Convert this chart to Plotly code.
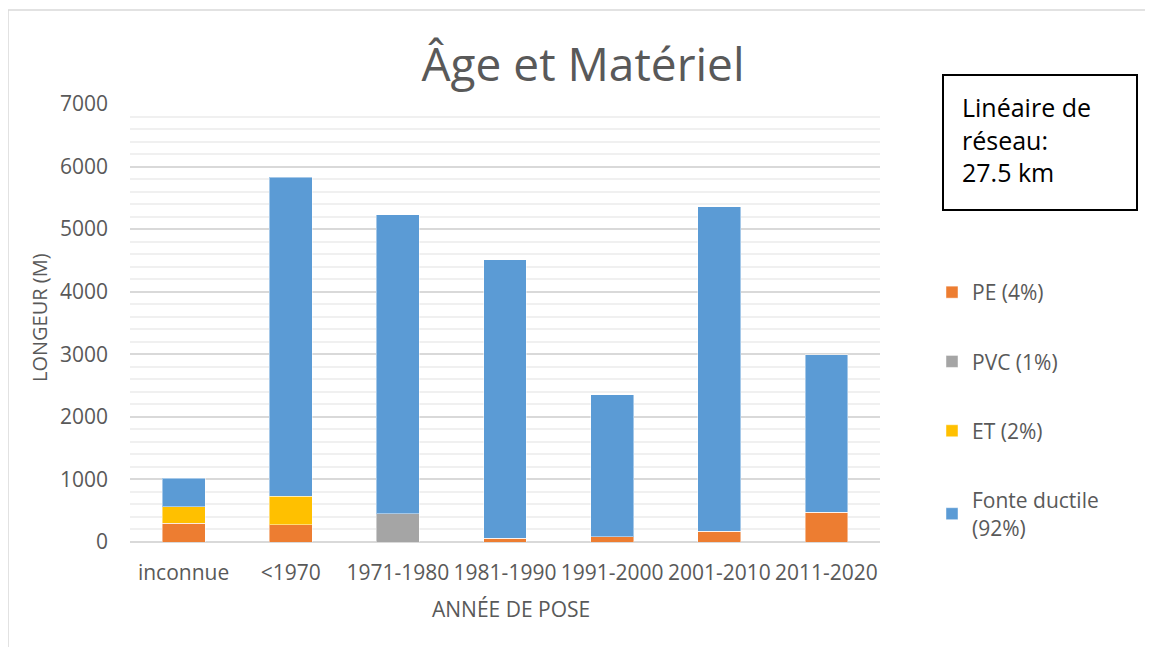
import plotly.graph_objects as go

categories = ["inconnue", "<1970", "1971-1980", "1981-1990", "1991-2000", "2001-2010", "2011-2020"]
pe = [300, 275, 0, 60, 80, 175, 475]
pvc = [0, 0, 455, 0, 0, 0, 0]
et = [265, 460, 0, 0, 0, 0, 0]
fonte = [455, 5095, 4775, 4450, 2270, 5185, 2515]

series_names = ["PE (4%)", "PVC (1%)", "ET (2%)", "Fonte ductile<br>(92%)"]
series_values = [pe, pvc, et, fonte]
series_colors = ["#ED7D31", "#A5A5A5", "#FFC000", "#5B9BD5"]

FONT = "Open Sans"
GRAY = "#595959"
OFF = 8  # page body margin offset

fig = go.Figure()
for i, (name, vals, col) in enumerate(zip(series_names, series_values, series_colors)):
    fig.add_trace(go.Bar(
        x=categories, y=vals, name=name, width=0.4,
        marker=dict(color=col, line=dict(color="rgba(255,255,255,0.45)", width=1)),
        legendgroup=f"g{i}",
    ))

# target screen pixels
SW, SH = 1153, 647
L, R, T, B = 130, 880, 104, 542
W, H = SW - OFF, SH - OFF
def px(x):
    return (x - L) / (R - L)
def py(y):
    return (B - y) / (B - T)

fig.update_layout(
    width=W, height=H,
    margin=dict(l=L - OFF, r=SW - R, t=T - OFF, b=SH - B, autoexpand=False),
    barmode="stack", bargap=0.6,
    paper_bgcolor="white", plot_bgcolor="white",
    font=dict(family=FONT, color=GRAY, size=20),
    title=dict(text="Âge et Matériel", x=(583 - OFF) / W, xanchor="center",
               y=1 - (65 - OFF) / H, yanchor="middle", yref="container",
               font=dict(family=FONT, size=46, color=GRAY)),
    legend=dict(x=px(932), xanchor="left", y=py(272), yanchor="top",
                traceorder="grouped", tracegroupgap=39,
                font=dict(family=FONT, size=21, color=GRAY),
                bgcolor="rgba(0,0,0,0)", itemclick=False),
    showlegend=True,
    xaxis=dict(showgrid=False, showline=False, ticks="", zeroline=False,
               tickfont=dict(family=FONT, size=21, color=GRAY),
               ticklabelstandoff=16, fixedrange=True),
    yaxis=dict(range=[0, 7000], dtick=1000, showgrid=True, gridcolor="#d9d9d9", gridwidth=1.5,
               minor=dict(dtick=200, showgrid=True, gridcolor="#f0f0f0", gridwidth=1.5),
               zeroline=True, zerolinecolor="#d9d9d9", zerolinewidth=1.5,
               showline=False, ticks="",
               tickfont=dict(family=FONT, size=21, color=GRAY),
               ticklabelstandoff=21, fixedrange=True),
)

# axis titles
fig.add_annotation(text="LONGEUR (M)", xref="paper", yref="paper", x=px(39), y=py(318),
                   textangle=-90, showarrow=False, font=dict(family=FONT, size=20, color=GRAY),
                   xanchor="center", yanchor="middle")
fig.add_annotation(text="ANNÉE DE POSE", xref="paper", yref="paper", x=px(511), y=py(609),
                   showarrow=False, font=dict(family=FONT, size=21, color=GRAY),
                   xanchor="center", yanchor="middle")

# text box
fig.add_shape(type="rect", xref="paper", yref="paper",
              x0=px(943), x1=px(1137), y0=py(210), y1=py(75),
              line=dict(color="black", width=2), fillcolor="white", layer="above")
fig.add_annotation(text="Linéaire de<br>réseau:<br>27.5 km", xref="paper", yref="paper",
                   x=px(960), y=py(139), xanchor="left", yanchor="middle", align="left",
                   showarrow=False, font=dict(family=FONT, size=25, color="black"))

# chart outer border (top and left)
fig.add_shape(type="line", xref="paper", yref="paper", x0=px(8), x1=px(1153), y0=py(10), y1=py(10),
              line=dict(color="#d9d9d9", width=1.5))
fig.add_shape(type="line", xref="paper", yref="paper", x0=px(8), x1=px(8), y0=py(10), y1=py(647),
              line=dict(color="#d9d9d9", width=1.5))

fig.write_html("out.html")
